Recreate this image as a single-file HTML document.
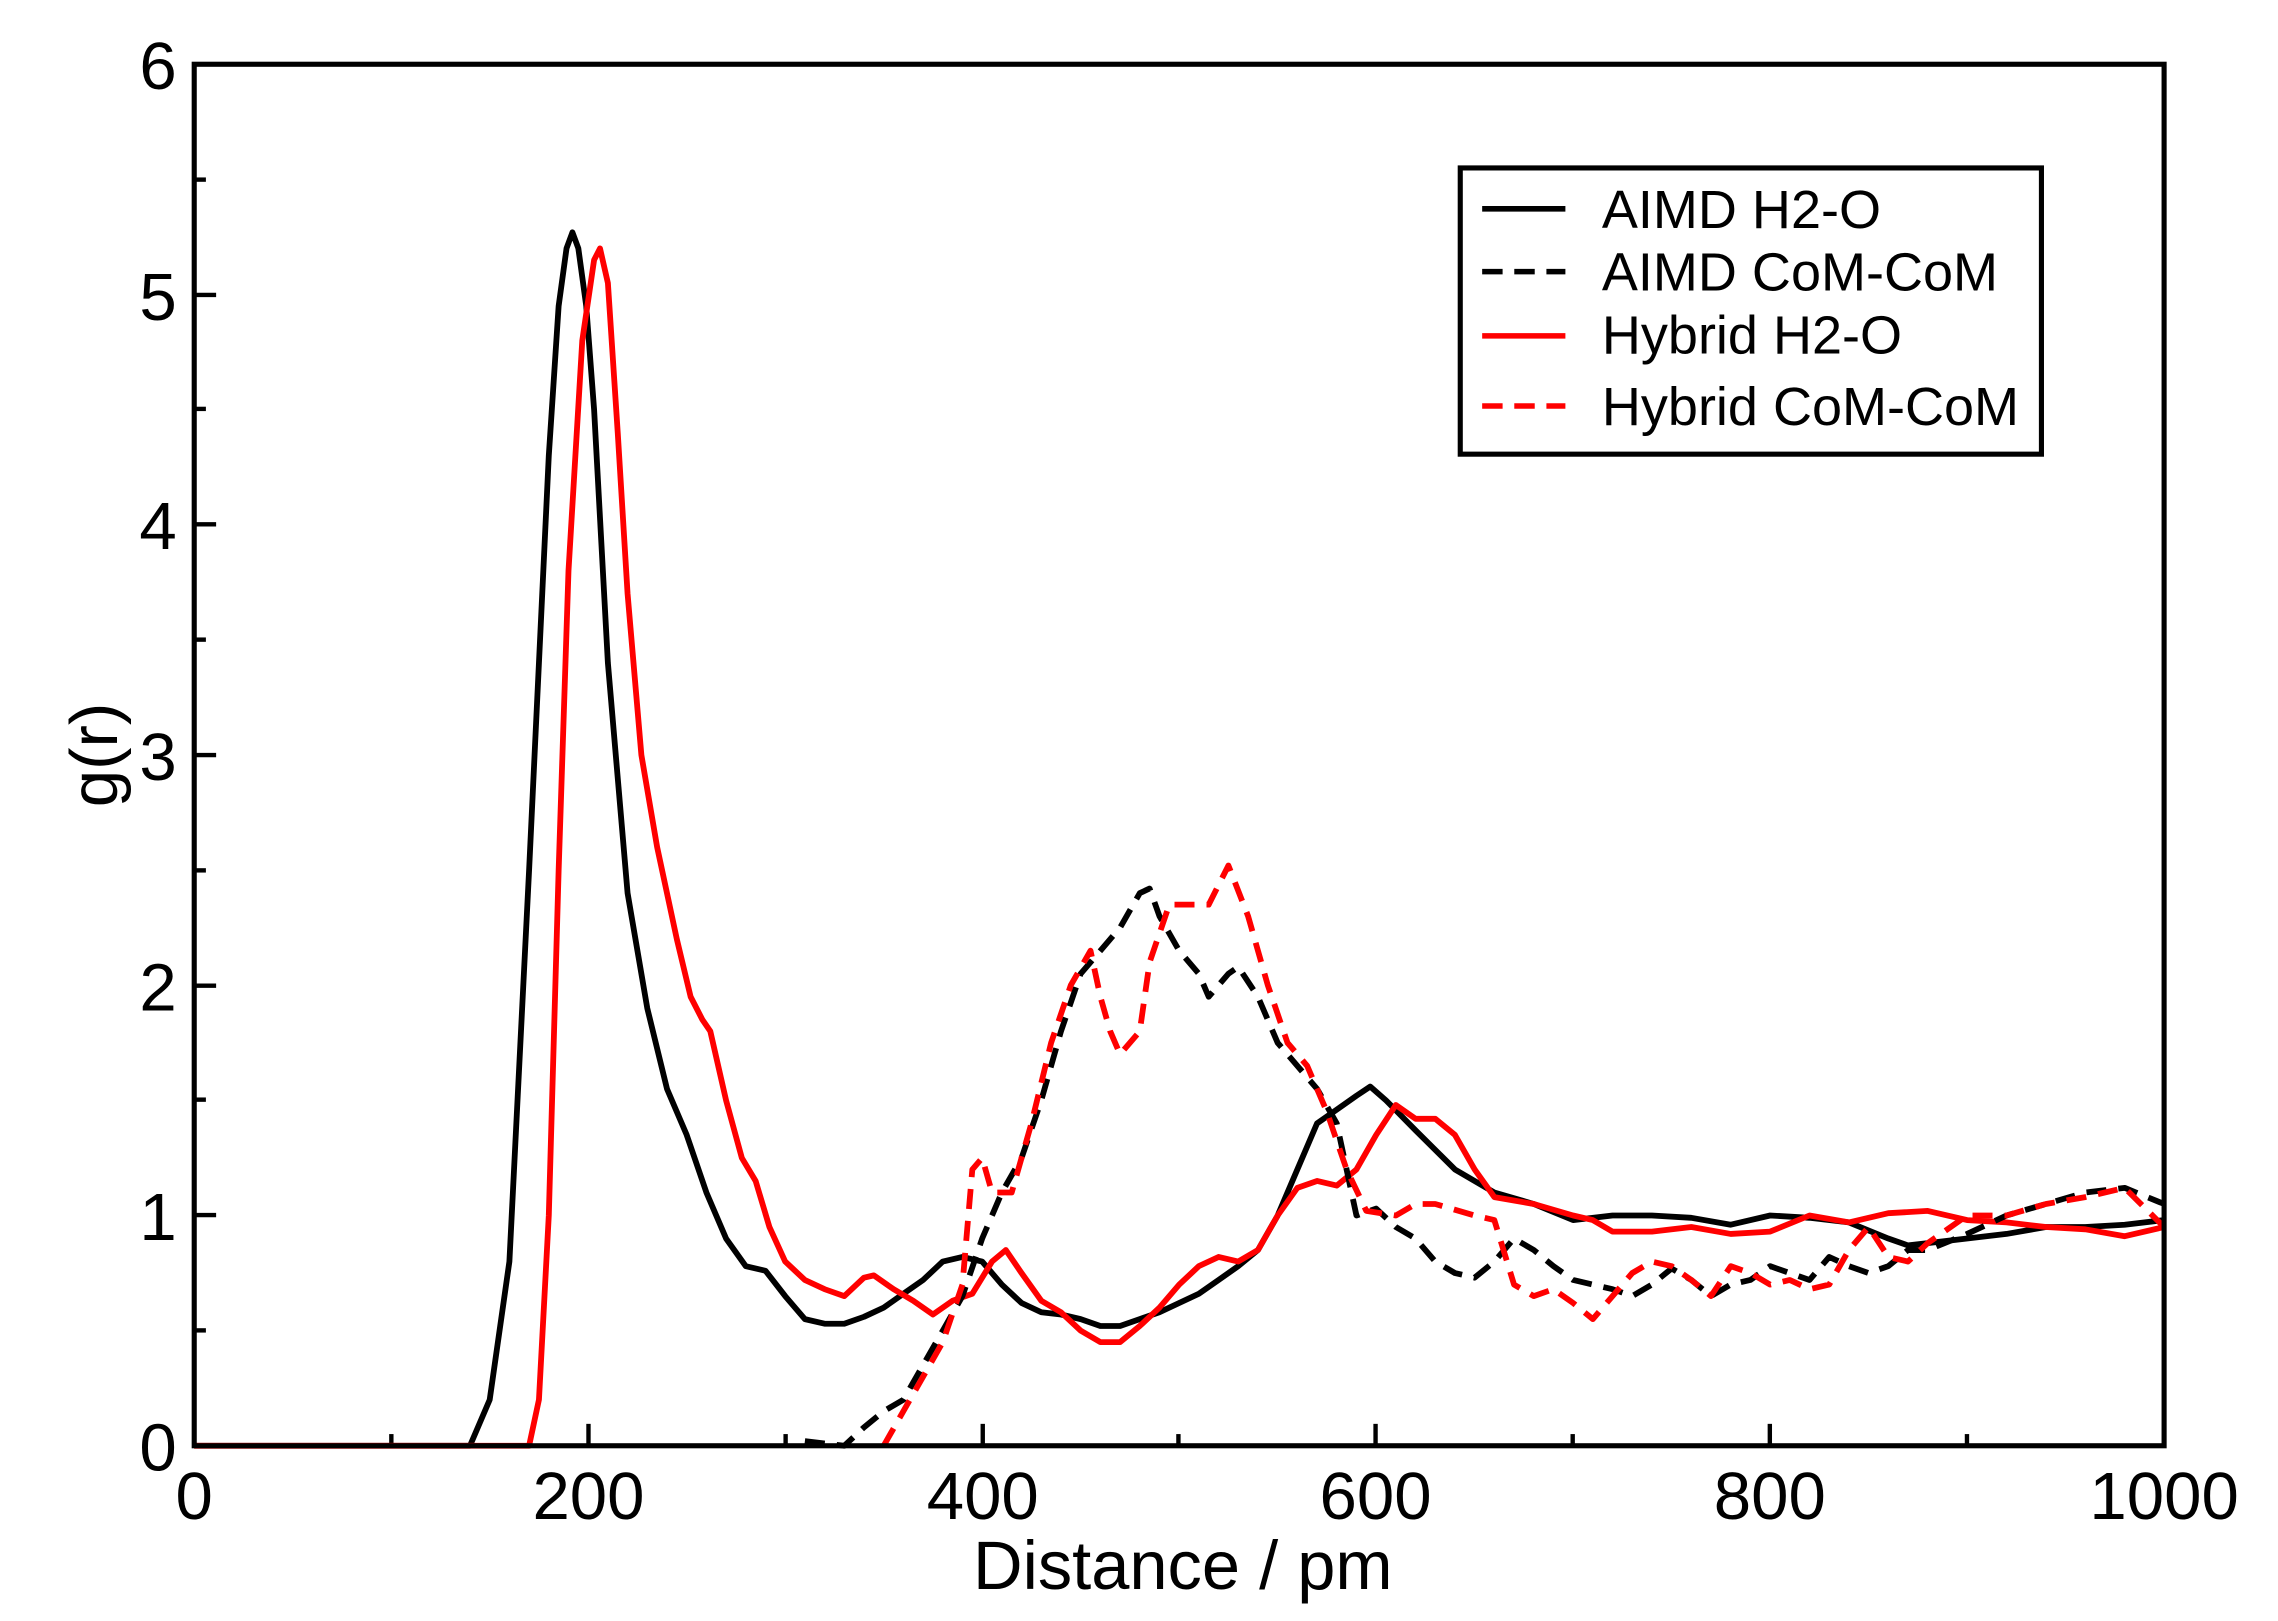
<!DOCTYPE html>
<html><head><meta charset="utf-8"><style>html,body{margin:0;padding:0;background:#fff}svg{display:block}</style></head>
<body>
<svg width="2278" height="1621" viewBox="0 0 1560 1110" preserveAspectRatio="none" xmlns="http://www.w3.org/2000/svg" font-family="Liberation Sans, sans-serif">
<rect width="1560" height="1110" fill="#fff"/>
<g stroke="#000" stroke-width="3">
<line x1="133" y1="990" x2="133" y2="975"/><line x1="403" y1="990" x2="403" y2="975"/><line x1="673" y1="990" x2="673" y2="975"/><line x1="942" y1="990" x2="942" y2="975"/><line x1="1212" y1="990" x2="1212" y2="975"/>
<line x1="268" y1="990" x2="268" y2="982"/><line x1="538" y1="990" x2="538" y2="982"/><line x1="807" y1="990" x2="807" y2="982"/><line x1="1077" y1="990" x2="1077" y2="982"/><line x1="1347" y1="990" x2="1347" y2="982"/>
<line x1="133" y1="832" x2="148" y2="832"/><line x1="133" y1="675" x2="148" y2="675"/><line x1="133" y1="517" x2="148" y2="517"/><line x1="133" y1="359" x2="148" y2="359"/><line x1="133" y1="202" x2="148" y2="202"/>
<line x1="133" y1="911" x2="141" y2="911"/><line x1="133" y1="753" x2="141" y2="753"/><line x1="133" y1="596" x2="141" y2="596"/><line x1="133" y1="438" x2="141" y2="438"/><line x1="133" y1="280" x2="141" y2="280"/><line x1="133" y1="123" x2="141" y2="123"/>
</g>
<g font-size="46" text-anchor="middle" fill="#000">
<text x="133" y="1040">0</text><text x="403" y="1040">200</text><text x="673" y="1040">400</text><text x="942" y="1040">600</text><text x="1212" y="1040">800</text><text x="1482" y="1040">1000</text>
</g>
<g font-size="46" text-anchor="end" fill="#000">
<text x="121" y="1007">0</text><text x="121" y="849">1</text><text x="121" y="692">2</text><text x="121" y="534">3</text><text x="121" y="376">4</text><text x="121" y="219">5</text><text x="121" y="61">6</text>
</g>
<text x="810" y="1088" font-size="47" text-anchor="middle">Distance / pm</text>
<text transform="translate(80,517) rotate(-90)" font-size="46" text-anchor="middle">g(r)</text>
<g transform="translate(133,990) scale(1.349,-157.67)" fill="none" stroke-width="5.8" stroke-linejoin="round">
<polyline vector-effect="non-scaling-stroke" stroke="#000" points="0,0 140,0 150,0.2 160,0.8 170,2.5 180,4.3 185,4.95 189,5.2 192,5.27 195,5.2 199,4.95 203,4.5 210,3.4 220,2.4 230,1.9 240,1.55 250,1.35 260,1.1 270,0.9 280,0.78 290,0.76 300,0.65 310,0.55 320,0.53 330,0.53 340,0.56 350,0.6 360,0.66 370,0.72 380,0.8 390,0.82 400,0.8 410,0.7 420,0.62 430,0.58 440,0.57 450,0.55 460,0.52 470,0.52 480,0.55 490,0.58 500,0.62 510,0.66 520,0.72 530,0.78 540,0.85 550,1.0 560,1.2 570,1.4 580,1.46 590,1.52 597,1.56 605,1.5 620,1.37 640,1.2 660,1.1 680,1.05 700,0.98 720,1.0 740,1.0 760,0.99 780,0.96 800,1.0 820,0.99 840,0.97 860,0.9 870,0.87 880,0.88 900,0.9 920,0.92 940,0.95 960,0.95 980,0.96 1000,0.98"/>
<polyline vector-effect="non-scaling-stroke" stroke="#f00" points="0,0 170,0 175,0.2 180,1.0 185,2.5 190,3.8 197,4.8 203,5.15 206,5.2 210,5.05 215,4.4 220,3.7 227,3.0 235,2.6 245,2.2 252,1.95 258,1.85 262,1.8 270,1.5 278,1.25 285,1.15 292,0.95 300,0.8 310,0.72 320,0.68 330,0.65 340,0.73 345,0.74 355,0.68 365,0.63 375,0.57 385,0.63 395,0.66 405,0.8 412,0.85 420,0.75 430,0.63 440,0.58 450,0.5 460,0.45 470,0.45 480,0.52 490,0.6 500,0.7 510,0.78 520,0.82 530,0.8 540,0.85 550,1.0 560,1.12 570,1.15 580,1.13 590,1.2 600,1.35 610,1.48 620,1.42 630,1.42 640,1.35 650,1.2 660,1.08 680,1.05 700,1.0 710,0.98 720,0.93 740,0.93 760,0.95 780,0.92 800,0.93 820,1.0 840,0.97 860,1.01 880,1.02 900,0.98 920,0.97 940,0.95 960,0.94 980,0.91 1000,0.95"/>
<polyline vector-effect="non-scaling-stroke" stroke="#000" stroke-dasharray="20 12" points="310,0.02 330,0.0 340,0.08 350,0.15 360,0.2 370,0.35 380,0.5 390,0.65 400,0.9 410,1.1 420,1.25 430,1.5 440,1.8 450,2.05 460,2.15 470,2.25 480,2.4 485,2.42 490,2.3 500,2.15 510,2.05 515,1.95 525,2.05 530,2.08 540,1.95 550,1.75 560,1.65 570,1.55 580,1.4 590,1.0 600,1.03 610,0.95 620,0.9 630,0.8 640,0.75 650,0.73 660,0.8 670,0.9 680,0.85 690,0.78 700,0.72 720,0.68 730,0.65 740,0.7 750,0.77 760,0.72 770,0.65 780,0.7 790,0.72 800,0.78 810,0.75 820,0.72 830,0.82 840,0.78 850,0.75 860,0.78 870,0.85 880,0.85 900,0.92 920,1.0 940,1.05 960,1.1 980,1.12 1000,1.05"/>
<polyline vector-effect="non-scaling-stroke" stroke="#f00" stroke-dasharray="20 12" points="350,0.0 360,0.15 370,0.3 380,0.45 390,0.7 395,1.2 400,1.25 405,1.1 415,1.1 425,1.4 435,1.75 445,2.0 455,2.15 460,1.95 465,1.8 470,1.7 480,1.8 485,2.1 495,2.35 505,2.35 515,2.35 525,2.52 535,2.3 545,2.0 555,1.75 565,1.65 575,1.45 585,1.2 595,1.02 610,1.0 620,1.05 630,1.05 650,1.0 660,0.98 670,0.7 680,0.65 690,0.68 700,0.62 710,0.55 720,0.65 730,0.75 740,0.8 750,0.78 760,0.72 770,0.65 780,0.78 790,0.75 800,0.7 810,0.72 820,0.68 830,0.7 840,0.85 850,0.95 860,0.82 870,0.8 880,0.88 900,1.0 920,1.0 940,1.05 960,1.08 980,1.12 1000,0.95"/>
</g>
<rect x="133" y="44" width="1349" height="946" fill="none" stroke="#000" stroke-width="3.5"/>
<rect x="1000" y="115" width="398" height="196" fill="#fff" stroke="#000" stroke-width="3.5"/>
<g stroke-width="3.8">
<line x1="1015" y1="143" x2="1072" y2="143" stroke="#000"/>
<line x1="1015" y1="186" x2="1072" y2="186" stroke="#000" stroke-dasharray="14 8"/>
<line x1="1015" y1="230" x2="1072" y2="230" stroke="#f00"/>
<line x1="1015" y1="278" x2="1072" y2="278" stroke="#f00" stroke-dasharray="14 8"/>
</g>
<g font-size="37" fill="#000">
<text x="1097" y="156">AIMD H2-O</text>
<text x="1097" y="199">AIMD CoM-CoM</text>
<text x="1097" y="242">Hybrid H2-O</text>
<text x="1097" y="291">Hybrid CoM-CoM</text>
</g>
</svg>
</body></html>
